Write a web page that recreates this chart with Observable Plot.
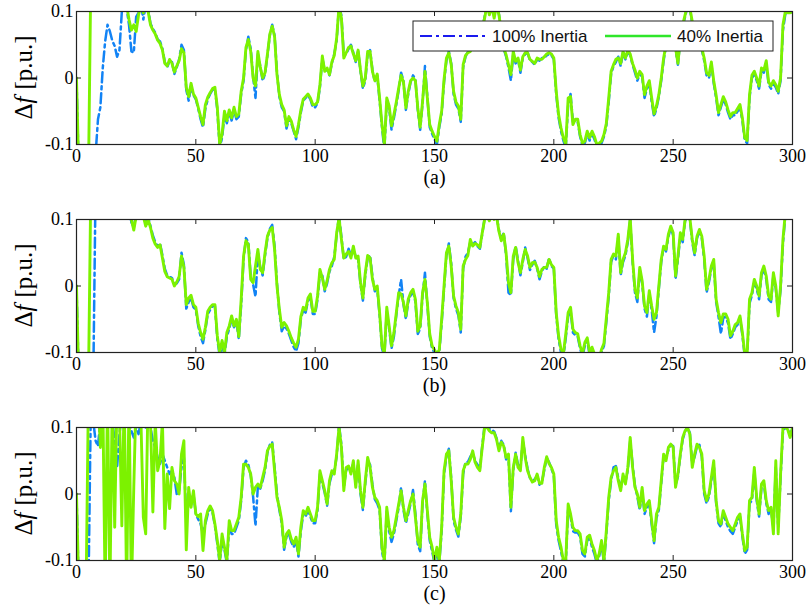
<!DOCTYPE html>
<html><head><meta charset="utf-8">
<script src="https://cdn.jsdelivr.net/npm/d3@7"></script>
<script src="https://cdn.jsdelivr.net/npm/@observablehq/plot@0.6"></script>
<style>
body{margin:0;background:#fff;}
#chart{width:810px;}
svg{display:block;}
</style></head><body><div id="chart"></div>
<script>
// ---- data (values in milli p.u., sampled every 1 s from 0 to 300 s) ----
const xTicks = [0, 50, 100, 150, 200, 250, 300];
const yTicks = [-0.1, 0, 0.1];
const captions = ["(a)", "(b)", "(c)"];
const seriesNames = ["100% Inertia", "40% Inertia"];
const time = d3.range(0, 301);

const a100 = [
0,-150,-150,-150,-150,-150,-150,-150,-115,-62,
-44,15,55,80,70,56,48,32,42,100,
115,105,80,40,38,92,98,112,88,110,
104,82,74,68,58,55,44,24,16,26,
24,6,16,28,50,42,-18,-34,-12,-26,
-32,-46,-62,-74,-46,-32,-24,-18,-16,-48,
-105,-90,-56,-68,-52,-64,-48,-62,-58,-24,
-4,42,62,44,2,-30,36,18,-4,6,
34,64,80,64,8,-28,-44,-50,-76,-62,
-68,-80,-92,-74,-52,-34,-30,-26,-32,-44,
-44,-38,-14,30,12,12,4,22,36,56,
108,94,34,36,44,50,38,24,40,10,
-16,-4,36,42,12,-6,4,-34,-74,-108,
-36,-46,-78,-60,-40,-18,8,-4,-48,-24,
-6,4,-2,-48,-78,-38,18,-28,-74,-84,
-92,-100,-74,-54,-6,26,40,22,-24,-40,
-46,-66,16,32,40,42,46,54,58,64,
72,92,112,98,110,94,108,96,72,44,
32,16,-4,36,22,28,8,30,36,38,
26,24,20,28,26,30,30,34,36,34,
28,-24,-60,-80,-94,-105,-40,-24,-66,-64,
-66,-88,-102,-98,-84,-94,-84,-92,-105,-100,
-98,-88,-72,-36,6,18,24,32,18,38,
28,40,34,20,8,-4,6,2,-30,-16,
-8,-36,-58,-46,-28,-4,26,48,58,68,
60,42,20,58,78,92,108,104,82,72,
66,56,42,26,4,0,20,-8,-30,-56,
-44,-32,-40,-52,-62,-56,-56,-50,-44,-64,
-94,-98,-30,0,6,-4,-16,10,8,22,
-10,-16,-8,-14,-24,-4,72,96,100,98,
100];

const a40 = [
0,-150,-150,-150,-150,-150,150,150,150,150,
150,150,150,150,150,150,150,150,150,150,
150,110,88,72,80,70,95,110,98,110,
100,80,72,66,57,52,42,22,18,28,
22,9,18,26,44,38,-14,-28,-8,-24,
-30,-44,-58,-70,-40,-29,-22,-16,-14,-44,
-100,-84,-50,-64,-48,-60,-44,-58,-54,-20,
0,46,58,40,0,-12,40,16,0,8,
36,66,78,62,5,-25,-40,-48,-72,-58,
-65,-78,-88,-70,-48,-32,-28,-24,-30,-40,
-40,-36,-10,33,10,15,5,24,34,60,
108,90,30,38,46,48,36,26,42,12,
-12,0,40,40,10,-4,6,-30,-70,-100,
-30,-42,-72,-55,-36,-15,4,-6,-45,-20,
-4,0,-4,-45,-74,-35,10,-30,-70,-80,
-88,-95,-70,-50,-2,30,38,20,-20,-36,
-42,-62,20,34,38,40,48,52,56,62,
75,90,110,95,108,90,110,95,70,45,
35,20,5,40,25,30,12,32,38,38,
28,25,22,30,28,28,32,36,38,36,
30,-20,-55,-75,-90,-100,-30,-28,-70,-62,
-62,-85,-98,-95,-80,-90,-80,-88,-100,-98,
-95,-85,-68,-30,10,20,28,30,22,40,
30,42,36,22,12,0,10,5,-25,-12,
-4,-30,-54,-42,-25,0,30,50,60,70,
62,45,22,60,80,95,110,105,85,75,
70,60,45,30,8,4,24,-4,-26,-52,
-40,-28,-36,-48,-58,-52,-52,-46,-40,-60,
-90,-94,-25,4,10,0,-12,15,12,26,
-6,-12,-4,-10,-20,0,80,100,98,98,
100];

const b100 = [
0,-150,-150,-150,-150,-150,-150,-150,150,150,
150,150,150,150,150,150,150,150,150,150,
150,150,115,96,88,108,112,110,108,94,
104,90,76,66,60,64,46,26,16,14,
12,2,4,10,50,32,-34,-24,-18,-32,
-36,-60,-76,-86,-66,-42,-36,-30,-30,-80,
-105,-88,-104,-76,-64,-50,-62,-54,-80,-28,
40,72,66,14,2,-16,50,28,16,46,
72,86,92,60,4,-40,-68,-60,-64,-72,
-82,-92,-98,-86,-50,-36,-40,-22,-16,-42,
-42,-20,20,16,-8,4,22,30,44,76,
106,74,40,44,56,46,56,44,40,2,
-22,16,42,46,14,-8,-4,-44,-94,-106,
-38,-64,-94,-76,-44,-14,10,-28,-50,-24,
-14,-8,-24,-72,-64,-14,20,-28,-76,-94,
-100,-106,-100,-56,-4,46,64,34,-18,-34,
-44,-70,26,44,50,66,62,66,60,56,
78,102,108,100,112,102,106,84,70,80,
46,-10,-14,40,60,38,16,36,58,42,
24,32,38,26,10,22,30,26,42,30,
26,-44,-80,-100,-106,-78,-46,-36,-70,-74,
-76,-94,-106,-90,-82,-104,-96,-106,-110,-112,
-100,-90,-54,-16,36,46,40,74,16,36,
46,66,100,36,-10,-24,24,4,-34,-46,
-12,-36,-70,-46,-4,36,58,52,74,88,
76,10,40,76,66,98,104,100,66,46,
72,82,72,40,-10,6,26,36,-24,-46,
-72,-48,-46,-56,-80,-72,-62,-58,-48,-74,
-106,-106,-26,-14,6,-4,-20,16,26,10,
-20,-24,16,-4,-40,-6,64,106,130,130,
130];

const b40 = [
0,-150,-150,-150,-150,-150,150,150,150,150,
150,150,150,150,150,150,150,150,150,150,
150,150,110,100,84,105,110,110,105,90,
100,88,72,63,58,62,42,22,14,12,
10,0,6,14,45,28,-28,-18,-14,-28,
-32,-56,-70,-80,-62,-38,-32,-28,-28,-75,
-100,-82,-100,-70,-60,-45,-60,-50,-76,-20,
45,68,62,10,5,30,55,25,20,50,
75,84,88,55,0,-35,-62,-55,-60,-68,
-78,-86,-92,-80,-46,-32,-36,-18,-12,-38,
-38,-15,25,12,-5,8,25,35,40,80,
102,70,42,48,52,42,60,42,45,5,
-18,20,46,42,10,-5,0,-40,-90,-102,
-32,-60,-90,-70,-40,-10,-12,-25,-45,-20,
-10,-5,-20,-68,-60,-10,10,-25,-72,-90,
-96,-102,-96,-50,0,50,60,30,-15,-30,
-40,-65,30,40,46,70,60,64,62,58,
80,100,105,98,110,100,105,82,68,78,
50,5,-10,45,58,35,20,40,55,45,
28,35,36,28,14,25,28,28,40,32,
28,-40,-75,-95,-102,-72,-40,-32,-65,-70,
-72,-90,-102,-85,-78,-100,-92,-102,-105,-110,
-95,-86,-48,-10,40,48,45,78,20,40,
50,70,102,40,-5,-18,28,8,-30,-40,
-7,-30,-50,-40,0,40,60,55,78,90,
80,15,45,80,70,100,102,102,70,50,
75,85,75,45,-5,10,30,40,-20,-40,
-55,-42,-42,-50,-75,-68,-58,-55,-45,-70,
-102,-102,-20,-10,10,0,-15,20,30,15,
-15,-20,20,0,-45,0,70,110,130,130,
130];

const c100 = [
0,-150,-150,-150,-150,-150,130,110,80,72,
110,130,130,130,120,110,80,40,90,120,
130,120,110,95,85,100,90,110,105,100,
110,100,80,70,55,45,60,50,40,30,
35,25,0,5,40,55,-40,0,-15,0,
-30,-38,-45,-60,-45,-30,-22,-28,-48,-75,
-104,-70,-84,-104,-48,-60,-60,-50,-40,-10,
40,50,44,28,-4,-48,12,8,20,36,
62,74,78,40,0,-24,-44,-84,-64,-60,
-72,-80,-70,-94,-56,-30,-34,-24,-34,-44,
-44,-24,30,16,2,-18,16,30,34,56,
104,74,10,36,40,34,46,14,46,0,
-24,16,50,44,14,-8,-14,-24,-86,-106,
-26,-56,-72,-60,-40,-20,10,-24,-44,-30,
-14,6,-30,-76,-86,-14,20,-30,-70,-86,
-104,-86,-104,-56,30,56,68,24,-40,-54,
-64,-34,30,48,48,56,62,50,44,38,
72,104,104,98,96,94,84,68,80,74,
52,56,-26,36,62,44,38,80,58,38,
24,20,22,28,14,18,36,54,48,38,
28,-46,-70,-86,-104,-104,-22,-34,-56,-58,
-58,-64,-90,-94,-70,-66,-80,-90,-104,-94,
-74,-104,-60,-10,20,40,42,24,8,26,
18,36,80,44,12,-4,-24,6,-30,-20,
-14,-46,-74,-36,-24,16,56,54,66,74,
72,14,26,58,82,94,100,92,44,56,
72,74,56,0,-14,-4,20,46,-14,-44,
-50,-30,-40,-50,-56,-60,-50,-40,-34,-64,
-90,-84,-14,-10,34,-10,-34,10,16,-14,
-30,-24,-50,40,-50,24,94,100,98,88,
100];

const c40 = [
0,-150,-150,-150,-150,150,150,150,150,150,
70,150,-150,150,-150,150,-50,150,120,-48,
150,-150,150,-150,10,150,120,110,-35,-60,
150,110,-27,110,35,50,110,-52,30,-22,
40,20,15,0,60,80,-84,10,-20,5,
-30,-34,-30,-85,-40,-25,-18,-25,-45,-70,
-100,-60,-80,-100,-40,-55,-55,-45,-35,-5,
45,45,40,30,0,10,15,10,25,40,
65,72,75,35,-5,-20,-40,-80,-60,-55,
-68,-75,-65,-90,-50,-25,-30,-20,-30,-40,
-40,-20,35,20,5,-15,20,35,30,60,
100,70,5,40,42,30,50,10,50,5,
-20,20,55,40,10,-5,-10,-20,-80,-100,
-20,-50,-65,-55,-35,-15,5,-20,-40,-25,
-10,0,-35,-70,-80,-10,15,-25,-65,-80,
-100,-80,-100,-50,35,60,65,20,-35,-50,
-60,-30,35,45,45,52,65,48,40,35,
70,100,100,95,92,92,82,65,78,72,
55,60,-20,40,60,40,35,85,55,35,
25,18,20,30,16,16,40,56,46,40,
30,-40,-65,-80,-100,-100,-15,-30,-50,-55,
-55,-60,-85,-90,-65,-62,-75,-85,-100,-90,
-70,-100,-55,-5,25,35,40,20,5,30,
15,40,85,40,10,0,-20,10,-25,-15,
-10,-40,-70,-30,-20,20,60,50,70,75,
70,10,30,60,85,95,100,90,40,60,
75,70,60,5,-10,0,25,50,-10,-40,
-45,-25,-35,-45,-50,-55,-45,-35,-30,-60,
-85,-80,-10,-5,40,-5,-30,15,20,-10,
-25,-20,-60,50,-60,30,100,100,97,85,
100];

// ---- drawing ----
const panels = [
  {cap: captions[0], s100: a100, s40: a40, h: 208, legend: true},
  {cap: captions[1], s100: b100, s40: b40, h: 208, legend: false},
  {cap: captions[2], s100: c100, s40: c40, h: 199, legend: false}
];
const BLUE = "#1283f5", GREEN = "#7cf200";
const mL = 76, mR = 18, mT = 11, plotH = 133, W = 810, plotW = W - mL - mR;
const root = document.getElementById("chart");

for (const p of panels) {
  const rows100 = time.map((t, k) => ({t, v: p.s100[k] / 1000}));
  const rows40 = time.map((t, k) => ({t, v: p.s40[k] / 1000}));
  const svg = Plot.plot({
    width: W, height: p.h,
    marginLeft: mL, marginRight: mR, marginTop: mT, marginBottom: p.h - mT - plotH,
    x: {domain: [0, 300]},
    y: {domain: [-0.1, 0.1]},
    style: {fontFamily: "'Liberation Serif', 'DejaVu Serif', serif", fontSize: "18px", color: "#000", background: "#fff", overflow: "visible"},
    marks: [
      Plot.line(rows100, {x: "t", y: "v", stroke: BLUE, strokeWidth: 2.5, strokeDasharray: "10,4,3,4", clip: true}),
      Plot.line(rows40, {x: "t", y: "v", stroke: GREEN, strokeWidth: 2.9, clip: true}),
      Plot.frame({stroke: "#222", strokeWidth: 1.2}),
      Plot.tickX(xTicks, {x: d => d, insetTop: plotH - 5, stroke: "#222"}),
      Plot.tickX(xTicks, {x: d => d, insetBottom: plotH - 5, stroke: "#222"}),
      Plot.tickY(yTicks, {y: d => d, insetRight: plotW - 5, stroke: "#222"}),
      Plot.tickY(yTicks, {y: d => d, insetLeft: plotW - 5, stroke: "#222"}),
      Plot.axisX({ticks: xTicks, tickSize: 0, tickPadding: 5, label: null, fontSize: 18}),
      Plot.axisY({ticks: yTicks, tickSize: 0, tickPadding: 3, label: null, fontSize: 18, tickFormat: d => String(d)}),
      Plot.text([p.cap], {text: d => d, frameAnchor: "bottom", dy: 39, fontSize: 20})
    ]
  });
  const s = d3.select(svg);
  // y-axis label
  const lbl = s.append("text")
    .attr("transform", `translate(23,${mT + plotH / 2}) rotate(-90)`)
    .attr("dominant-baseline", "central")
    .style("text-anchor", "middle")
    .style("font-family", "'Liberation Serif', serif").style("font-size", "25px").style("fill", "#000");
  lbl.append("tspan").text("Δ");
  lbl.append("tspan").style("font-style", "italic").text("f");
  lbl.append("tspan").attr("dx", 7).text("[p.u.]");
  if (p.legend) {
    const g = s.append("g")
      .style("font-family", "'Liberation Sans', Arial, sans-serif").style("font-size", "17px")
      .style("text-anchor", "start");
    g.append("rect").attr("x", 413).attr("y", 21).attr("width", 360).attr("height", 30)
      .attr("fill", "#fff").attr("stroke", "#222").attr("stroke-width", 1);
    g.append("line").attr("x1", 420).attr("x2", 485).attr("y1", 36).attr("y2", 36)
      .attr("stroke", "#1a1aee").attr("stroke-width", 2.2).attr("stroke-dasharray", "12,4,3,4");
    g.append("text").attr("x", 492).attr("y", 36).attr("dominant-baseline", "central")
      .style("text-anchor", "start").style("fill", "#111").text(seriesNames[0]);
    g.append("line").attr("x1", 605).attr("x2", 671).attr("y1", 36).attr("y2", 36)
      .attr("stroke", "#2fe62a").attr("stroke-width", 2.4);
    g.append("text").attr("x", 677).attr("y", 36).attr("dominant-baseline", "central")
      .style("text-anchor", "start").style("fill", "#111").text(seriesNames[1]);
  }
  root.appendChild(svg);
}
</script>
</body></html>
